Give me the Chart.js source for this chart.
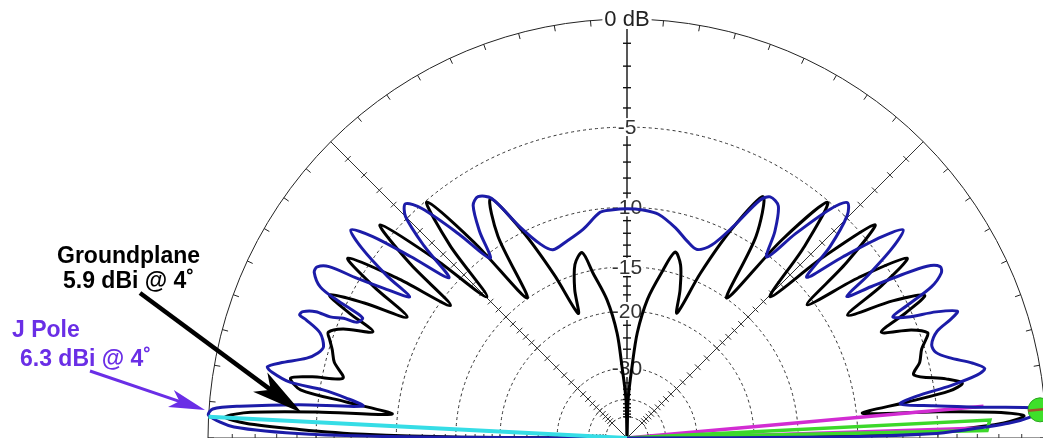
<!DOCTYPE html>
<html>
<head>
<meta charset="utf-8">
<script src="https://cdn.jsdelivr.net/npm/chart.js@4.4.0/dist/chart.umd.min.js"></script>
<style>
  html, body { margin: 0; padding: 0; background: #fff; overflow: hidden; }
</style>
</head>
<body>
<canvas id="pattern" width="1043" height="438"></canvas>
<script>
// Elevation patterns. Angle in degrees from the right horizon (0..180), gain in dB relative to the J pole maximum.
// -100 stands for the deep null at the centre.
const jpoleAngle = [
  0, 0.3, 0.8, 1.4, 2.2, 3.0, 4.0, 5.0, 6.0, 7.1, 8.2, 9.2, 10.2, 11.0, 12.2, 14.0, 15.5, 17.0, 19.0, 20.2,
  21.0, 22.2, 23.3, 24.5, 25.3, 26.4, 27.7, 28.7, 29.8, 30.8, 31.8, 32.8, 34.0, 35.6, 37.0, 38.3, 40.0, 41.8,
  43.3, 45.3, 46.9, 48.4, 50.5, 52.3, 54.4, 56.9, 59.3, 60.8, 63.3, 66.3, 69.6, 73.0, 77.0, 82.0, 86.0, 90.0,
  94.0, 96.8, 101.9, 107.0, 111.5, 114.0, 116.9, 119.5, 121.7, 123.5, 125.5, 127.3, 129.5, 131.8, 133.4, 135.0,
  136.6, 138.0, 140.0, 141.6, 143.0, 144.4, 146.0, 147.0, 148.4, 149.4, 150.1, 151.1, 152.1, 153.8, 154.6, 155.0,
  155.6, 156.8, 157.1, 157.8, 157.9, 158.7, 159.4, 159.8, 161.1, 163.3, 164.6, 166.0, 167.8, 168.8, 169.5, 170.6,
  171.0, 171.9, 173.1, 174.2, 175.3, 176.0, 176.9, 178.4, 179.3, 179.7, 180
];
const jpoleGain = [
  -100, -11.7, -5.37, -3.51, -1.56, -0.59, 0, -2.83, -5.17, -7.03, -6.05, -4.1, -2.73, -2.34, -2.83, -3.9, -4.49, -4.59, -4.1, -3.22,
  -2.83, -3.81, -5.27, -6.05, -5.08, -3.51, -2.78, -2.68, -3.22, -4.68, -6.34, -7.91, -6.15, -4.2, -3.22, -4.29, -6.64, -9.27,
  -6.83, -4.88, -4.39, -5.27, -7.71, -10.15, -8.39, -6.93, -6.73, -7.22, -9.56, -11.52, -12.3, -11.91, -11.13, -10.35, -10.15, -10.1,
  -10.15, -10.25, -11.32, -11.91, -12.2, -11.42, -9.56, -7.03, -6.54, -6.83, -8.39, -10.35, -7.71, -5.17, -4.39, -4.88,
  -6.83, -9.37, -6.64, -4.29, -3.22, -4.2, -6.25, -8.05, -6.39, -4.83, -3.32, -2.83, -2.83, -3.42, -4.49, -5.37,
  -6.15, -5.95, -5.17, -4.49, -3.71, -3.12, -3.03, -3.42, -4.29, -4.68, -4.49, -4.0, -2.78, -2.24, -2.5, -3.42,
  -5.17, -6.54, -7.61, -4.0, -1.27, -0.15, 0, -1.07, -4.68, -12.7, -100
];

const groundAngle = [
  0, 0.3, 0.8, 1.5, 2.3, 3.2, 4.0, 4.8, 6.0, 7.3, 8.3, 9.3, 10.5, 12.4, 14.5, 16.8, 18.3, 19.3, 20.8, 22.6,
  24.2, 25.6, 27.3, 29.1, 30.9, 32.7, 34.7, 36.5, 38.6, 40.7, 42.7, 44.6, 47.2, 49.6, 52.0, 54.5, 57.4, 60.6,
  63.5, 66.0, 68.2, 70.3, 72.8, 75.5, 78.2, 81.6, 84.4, 86.0, 88.3, 90.0,
  91.5, 94.0, 95.4, 98.2, 101.6, 103.6, 106.7, 109.4, 111.4, 114.0, 116.8, 119.7, 122.6, 125.5, 128.0, 130.3,
  132.6, 134.8, 137.0, 139.2, 141.2, 143.1, 145.2, 147.2, 149.1, 151.2, 152.8, 154.3, 155.8, 157.3, 159.0, 160.5,
  161.7, 163.3, 165.5, 168.1, 169.0, 169.9, 171.6, 172.7, 174.2, 175.2, 176.1, 177.0, 177.8, 178.5, 179.2, 179.7, 180
];
const groundGain = [
  -100, -15.6, -7.8, -4.1, -1.76, -0.88, -2.15, -4.88, -9.56, -6.64, -4.2, -3.51, -4.29, -5.95, -5.47, -5.17, -4.78, -4.59, -5.37, -7.03,
  -5.27, -4.0, -5.66, -8.49, -5.76, -3.86, -6.64, -10.49, -6.73, -4.15, -7.61, -12.3, -7.91, -5.08, -8.59, -14.93, -9.37, -6.93,
  -9.96, -14.15, -19.03, -16.4, -14.05, -13.08, -15.23, -18.35, -23.03, -29.67, -40.0, -100,
  -40.0, -29.67, -23.13, -18.45, -15.32, -13.18, -14.05, -16.4, -19.13, -14.35, -9.96, -7.03, -9.37, -14.93, -8.78, -5.08,
  -7.91, -12.49, -7.81, -4.2, -6.83, -10.74, -6.73, -3.9, -5.86, -8.59, -5.86, -4.0, -5.37, -7.03, -5.37, -4.68,
  -4.88, -5.17, -5.47, -6.15, -4.49, -3.42, -4.0, -6.64, -9.61, -4.98, -1.76, -0.68, -1.56, -4.1, -7.8, -15.6, -100
];

// low angle traces along the horizon (null = break in the line)
const cyanAngle = [177.1, 177.1];
const cyanGain = [0, -100];
const magentaAngle = [0, 5.1, null, 1.6, 0.8, 0];
const magentaGain = [-100, -2.64, null, -2.73, -29.3, -100];
const greenAngle = [0, 2.84, 1.2, 0];
const greenGain = [-100, -2.39, -2.54, -100];
const markerAngle = [3.9];
const markerGain = [-0.2];

// grid
const ringLevels = [-5, -10, -15, -20, -30, -40, -50];
const ringLabels = ['-5', '-10', '-15', '-20', '-30'];
const ringLabelLevels = [-5, -10, -15, -20, -30];
const radialAngles = [0, 45, 90, 135, 180];

// ARRL style log scale, radius shrinks by 0.8875 every 2 dB
function rho(db) {
  if (db <= -100) return 0;
  return Math.pow(0.8875, -db / 2);
}
function toXY(angles, gains) {
  return angles.map((a, i) => {
    if (a === null || gains[i] === null) return { x: NaN, y: NaN };
    const r = rho(gains[i]);
    const t = a * Math.PI / 180;
    return { x: r * Math.cos(t), y: r * Math.sin(t) };
  });
}

const polarGrid = {
  id: 'polarGrid',
  beforeDatasetsDraw(chart) {
    const { ctx, scales: { x, y } } = chart;
    const cx = x.getPixelForValue(0), cy = y.getPixelForValue(0);
    const R = x.getPixelForValue(1) - cx;
    ctx.save();

    // dashed rings
    ctx.strokeStyle = '#333';
    ctx.lineWidth = 1;
    ctx.setLineDash([3, 3]);
    ringLevels.forEach(l => {
      ctx.beginPath();
      ctx.arc(cx, cy, rho(l) * R, Math.PI, 2 * Math.PI);
      ctx.stroke();
    });
    ctx.setLineDash([]);

    // outer circle + ticks every 5 deg
    ctx.strokeStyle = '#222';
    ctx.beginPath();
    ctx.arc(cx, cy, R, Math.PI, 2 * Math.PI);
    ctx.stroke();
    for (let a = 0; a <= 180; a += 5) {
      const t = a * Math.PI / 180;
      ctx.beginPath();
      ctx.moveTo(cx + R * Math.cos(t), cy - R * Math.sin(t));
      ctx.lineTo(cx + (R - 6) * Math.cos(t), cy - (R - 6) * Math.sin(t));
      ctx.stroke();
    }

    // radial axes with dB ticks
    const tickLevels = [];
    for (let l = -1; l >= -20; l--) tickLevels.push(l);
    for (let l = -22; l >= -50; l -= 2) tickLevels.push(l);
    radialAngles.forEach(a => {
      const t = a * Math.PI / 180;
      const ux = Math.cos(t), uy = -Math.sin(t);
      ctx.strokeStyle = a === 90 ? '#111' : '#333';
      ctx.lineWidth = a === 90 ? 1.4 : 1;
      ctx.beginPath();
      ctx.moveTo(cx, cy);
      ctx.lineTo(cx + R * ux, cy + R * uy);
      ctx.stroke();
      tickLevels.forEach(l => {
        const r = rho(l) * R;
        const px = cx + r * ux, py = cy + r * uy;
        ctx.beginPath();
        ctx.moveTo(px - uy * 4, py + ux * 4);
        ctx.lineTo(px + uy * 4, py - ux * 4);
        ctx.stroke();
      });
    });

    // ring labels on the vertical axis
    ctx.font = '21px "Liberation Sans", Arial, sans-serif';
    ctx.textAlign = 'center';
    ctx.textBaseline = 'middle';
    ringLabels.forEach((txt, i) => {
      const py = cy - rho(ringLabelLevels[i]) * R;
      const w = ctx.measureText(txt).width;
      ctx.fillStyle = '#fff';
      ctx.fillRect(cx - w / 2 - 1, py - 9, w + 2, 18);
      ctx.fillStyle = '#333';
      ctx.fillText(txt, cx, py + 1);
    });
    ctx.font = '22px "Liberation Sans", Arial, sans-serif';
    const w0 = ctx.measureText('0 dB').width;
    ctx.fillStyle = '#fff';
    ctx.fillRect(cx - w0 / 2 - 2, cy - R - 10, w0 + 4, 20);
    ctx.fillStyle = '#222';
    ctx.fillText('0 dB', cx, cy - R + 1);
    ctx.restore();
  },
  afterDatasetsDraw(chart) {
    const { ctx } = chart;
    ctx.save();

    // stripe across the peak marker
    const m = chart.getDatasetMeta(5).data[0];
    if (m) {
      ctx.strokeStyle = '#a0522d';
      ctx.lineWidth = 2.5;
      ctx.beginPath();
      ctx.moveTo(m.x - 12, m.y + 1);
      ctx.lineTo(m.x + 8, m.y - 1);
      ctx.stroke();
    }

    // annotations
    function arrow(x0, y0, x1, y1, color, lw, headLen, headHalf) {
      const dx = x1 - x0, dy = y1 - y0, L = Math.hypot(dx, dy);
      const ux = dx / L, uy = dy / L;
      const bx = x1 - ux * headLen, by = y1 - uy * headLen;
      ctx.strokeStyle = color;
      ctx.lineWidth = lw;
      ctx.beginPath();
      ctx.moveTo(x0, y0);
      ctx.lineTo(x1 - ux * headLen * 0.6, y1 - uy * headLen * 0.6);
      ctx.stroke();
      ctx.fillStyle = color;
      ctx.beginPath();
      ctx.moveTo(x1, y1);
      ctx.lineTo(bx - uy * headHalf, by + ux * headHalf);
      ctx.lineTo(x1 - ux * headLen * 0.75, y1 - uy * headLen * 0.75);
      ctx.lineTo(bx + uy * headHalf, by - ux * headHalf);
      ctx.closePath();
      ctx.fill();
    }
    ctx.font = 'bold 23px "Liberation Sans", Arial, sans-serif';
    ctx.textAlign = 'left';
    ctx.textBaseline = 'alphabetic';
    ctx.fillStyle = '#000';
    ctx.fillText('Groundplane', 57, 263);
    ctx.fillText('5.9 dBi @ 4˚', 63, 288);
    arrow(140, 293, 302, 413, '#000', 4.5, 52, 12);

    ctx.fillStyle = '#6a2ee6';
    ctx.fillText('J Pole', 12, 337);
    ctx.fillText('6.3 dBi @ 4˚', 20, 366);
    arrow(90, 371, 205, 410, '#6a2ee6', 3, 36, 9);
    ctx.restore();
  }
};

new Chart(document.getElementById('pattern'), {
  type: 'scatter',
  data: {
    datasets: [
      { label: 'Cyan', data: toXY(cyanAngle, cyanGain), borderColor: '#36dde6', borderWidth: 4, tension: 0, order: 1 },
      { label: 'J Pole', data: toXY(jpoleAngle, jpoleGain), borderColor: '#1c1ca8', borderWidth: 3, tension: 0.3, order: 2 },
      { label: 'Green', data: toXY(greenAngle, greenGain), borderColor: '#3cd82a', borderWidth: 3.5, tension: 0, order: 3 },
      { label: 'Magenta', data: toXY(magentaAngle, magentaGain), borderColor: '#d22cd2', borderWidth: 3.5, tension: 0, order: 4 },
      { label: 'Groundplane', data: toXY(groundAngle, groundGain), borderColor: '#000', borderWidth: 3, tension: 0.3, order: 5 },
      { label: 'Marker', data: toXY(markerAngle, markerGain), showLine: false, pointRadius: 12,
        pointBackgroundColor: '#3ee02a', pointBorderColor: '#2aa41e', pointBorderWidth: 1, order: 0 }
    ]
  },
  options: {
    responsive: false,
    animation: false,
    showLine: true,
    spanGaps: false,
    layout: { padding: 0, autoPadding: false },
    elements: { point: { radius: 0 } },
    plugins: { legend: { display: false }, tooltip: { enabled: false } },
    scales: {
      x: { type: 'linear', display: false, min: -627 / 419, max: (1043 - 627) / 419 },
      y: { type: 'linear', display: false, min: 0, max: 438 / 419 }
    }
  },
  plugins: [polarGrid]
});
</script>
</body>
</html>
